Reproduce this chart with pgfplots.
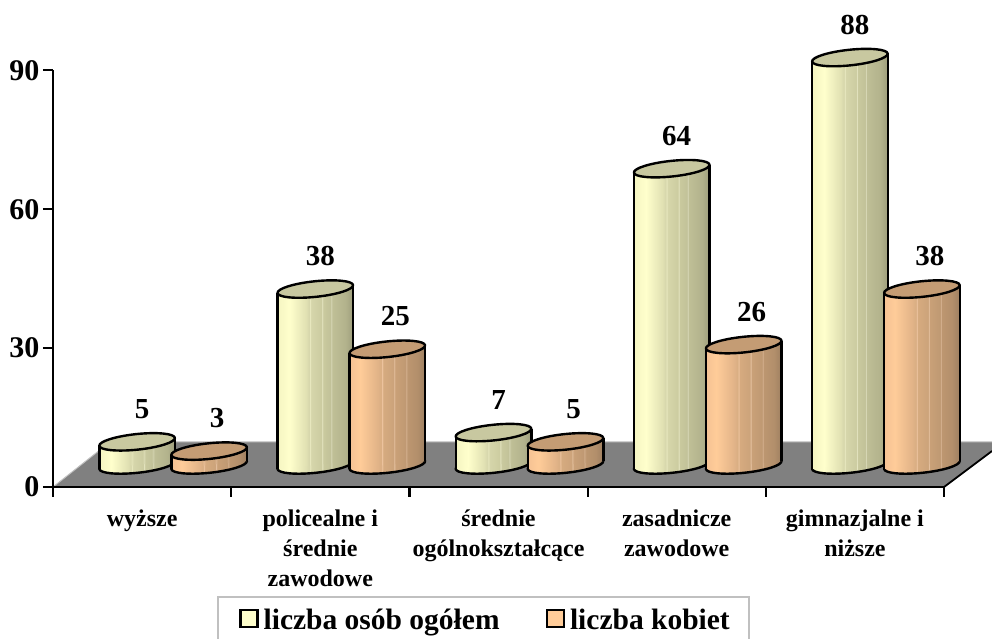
\documentclass[border=0pt]{standalone}
\usepackage{fontspec}
\setmainfont{Liberation Serif}
\usepackage{pgfplots}
\pgfplotsset{compat=1.18}
\definecolor{floorgray}{HTML}{808080}
\definecolor{edgegray}{HTML}{C0C0C0}
\definecolor{topY}{HTML}{C8C8A0}
\definecolor{topO}{HTML}{C49C74}
\definecolor{legY}{HTML}{FFFFCC}
\definecolor{legO}{HTML}{FFCC99}
\pgfdeclarehorizontalshading{cylY}{100bp}{
 rgb(0bp)=(0.96,0.96,0.76);
 rgb(25bp)=(0.96,0.96,0.76);
 rgb(33bp)=(1,1,0.80);
 rgb(44bp)=(0.88,0.88,0.70);
 rgb(46bp)=(0.84,0.84,0.67);
 rgb(46.6bp)=(0.92,0.92,0.76);
 rgb(47.2bp)=(0.84,0.84,0.67);
 rgb(54bp)=(0.80,0.80,0.63);
 rgb(54.6bp)=(0.90,0.90,0.76);
 rgb(55.2bp)=(0.79,0.79,0.62);
 rgb(60bp)=(0.76,0.76,0.60);
 rgb(60.6bp)=(0.85,0.85,0.72);
 rgb(61.2bp)=(0.75,0.75,0.59);
 rgb(70bp)=(0.70,0.70,0.55);
 rgb(75bp)=(0.62,0.62,0.49);
 rgb(100bp)=(0.62,0.62,0.49)}
\pgfdeclarehorizontalshading{cylO}{100bp}{
 rgb(0bp)=(0.96,0.76,0.58);
 rgb(25bp)=(0.96,0.76,0.58);
 rgb(32bp)=(1,0.80,0.60);
 rgb(44bp)=(0.88,0.70,0.53);
 rgb(46bp)=(0.85,0.68,0.51);
 rgb(46.6bp)=(0.94,0.78,0.64);
 rgb(47.2bp)=(0.84,0.67,0.50);
 rgb(54bp)=(0.80,0.64,0.48);
 rgb(54.6bp)=(0.90,0.76,0.63);
 rgb(55.2bp)=(0.79,0.63,0.47);
 rgb(62bp)=(0.75,0.60,0.45);
 rgb(62.6bp)=(0.84,0.70,0.57);
 rgb(63.2bp)=(0.74,0.59,0.44);
 rgb(70bp)=(0.70,0.56,0.42);
 rgb(75bp)=(0.62,0.50,0.38);
 rgb(100bp)=(0.62,0.50,0.38)}
\newcommand{\cylinder}[3]{%
 \pgfscope
  \pgftransformshift{\pgfpoint{#1}{22pt}}%
  \pgfsetlinewidth{2.4pt}%
  \pgfsetroundjoin
  \pgfsetstrokecolor{black}%
  \pgfmathsetlengthmacro{\hh}{\h*1pt}%
  % bottom ellipse
  \pgfpathellipse{\pgfpoint{0pt}{-\hh}}{\pgfpoint{37.8pt}{3.97pt}}{\pgfpoint{-0.82pt}{7.76pt}}%
  \pgfshadepath{#2}{0}%
  \pgfusepath{stroke}%
  % body
  \pgfmathsetlengthmacro{\ya}{4pt-\hh}%
  \pgfmathsetlengthmacro{\yb}{-4pt-\hh}%
  \pgfpathmoveto{\pgfpoint{-37.8pt}{-4pt}}%
  \pgfpathlineto{\pgfpoint{37.8pt}{4pt}}%
  \pgfpathlineto{\pgfpoint{37.8pt}{\ya}}%
  \pgfpathlineto{\pgfpoint{-37.8pt}{\yb}}%
  \pgfpathclose
  \pgfshadepath{#2}{0}%
  \pgfusepath{discard}%
  % sides
  \pgfpathmoveto{\pgfpoint{-37.8pt}{-4pt}}\pgfpathlineto{\pgfpoint{-37.8pt}{\yb}}%
  \pgfpathmoveto{\pgfpoint{37.8pt}{4pt}}\pgfpathlineto{\pgfpoint{37.8pt}{\ya}}%
  \pgfusepath{stroke}%
  % top
  \pgfsetfillcolor{#3}%
  \pgfpathellipse{\pgfpoint{0pt}{0pt}}{\pgfpoint{37.8pt}{3.97pt}}{\pgfpoint{-0.82pt}{7.76pt}}%
  \pgfusepath{fill,stroke}%
 \endpgfscope}
\pgfdeclareplotmark{cylmarkY}{\cylinder{-5pt}{cylY}{topY}}
\pgfdeclareplotmark{cylmarkO}{\cylinder{67pt}{cylO}{topO}}
\begin{document}
\begin{tikzpicture}
\useasboundingbox (0pt,0pt) rectangle (992pt,639pt);
% floor, in pixel positions of the picture
\fill[floorgray] (53pt,152pt) -- (944pt,152pt) -- (992pt,188pt) -- (992pt,197pt) -- (110pt,197pt) -- cycle;
\draw[edgegray,line width=1pt] (53pt,152pt) -- (110pt,197pt) -- (992pt,197pt);
\draw[black,line width=1.8pt] (944pt,152pt) -- (992pt,188pt);
\begin{axis}[
  at={(53pt,152pt)},anchor=origin,
  scale only axis,width=891pt,height=416.7pt,
  xmin=0.5,xmax=5.5,ymin=0,ymax=90,clip=false,
  axis x line=bottom,axis y line=left,
  axis line style={-,line width=2.4pt,black},
  xtick={1,2,3,4,5},
  xticklabels={{wyższe},{policealne i\\średnie\\zawodowe},{średnie\\ogólnokształcące},{zasadnicze\\zawodowe},{gimnazjalne i\\niższe}},
  minor xtick={0.5,1.5,2.5,3.5,4.5,5.5},
  ytick={0,30,60,90},
  tick align=outside,
  major tick length=10pt,minor tick length=10pt,
  tick style={black,line width=2.2pt},
  x tick style={draw=none},
  minor x tick style={draw=black,line width=2.2pt},
  xticklabel style={font=\fontsize{24}{30}\bfseries\selectfont,align=center,anchor=north,yshift=-9pt},
  yticklabel style={font=\fontsize{30}{32}\bfseries\selectfont,xshift=0pt},
  /pgf/number format/assume math mode=true,
  legend style={at={(axis description cs:0.1841,-0.261)},anchor=north west,
    draw=edgegray,line width=2.4pt,fill=white,
    font=\fontsize{29.5}{34}\bfseries\selectfont,
    inner xsep=17pt,inner ysep=10pt,
    /tikz/every even column/.append style={column sep=44pt}},
  legend columns=2,legend cell align=left,
  every node near coord/.append style={font=\fontsize{29}{32}\bfseries\selectfont,text=black,anchor=center},
]
\addplot[scatter,only marks,mark=cylmarkY,point meta=explicit,
  visualization depends on={\thisrow{v}*4.63 \as \h},
  nodes near coords,
  nodes near coords style={xshift=0pt,yshift=55pt},
  legend image code/.code={\draw[black,fill=legY,line width=2.4pt] (0pt,-7pt) rectangle (17pt,10pt); \path (20pt,0pt); \path (-4pt,0pt);}]
  table[x=c,y=v,meta=v]{
c v
1 5
2 38
3 7
4 64
5 88
};
\addlegendentry{liczba osób ogółem}
\addplot[scatter,only marks,mark=cylmarkO,point meta=explicit,
  visualization depends on={\thisrow{v}*4.63 \as \h},
  nodes near coords,
  nodes near coords style={xshift=75pt,yshift=55pt},
  legend image code/.code={\draw[black,fill=legO,line width=2.4pt] (0pt,-7pt) rectangle (17pt,10pt); \path (20pt,0pt);}]
  table[x=c,y=v,meta=v]{
c v
1 3
2 25
3 5
4 26
5 38
};
\addlegendentry{liczba kobiet}
\end{axis}
\end{tikzpicture}
\end{document}
